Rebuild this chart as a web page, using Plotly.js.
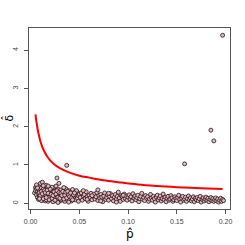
<!DOCTYPE html>
<html><head><meta charset="utf-8">
<script src="https://cdn.plot.ly/plotly-3.0.1.min.js"></script>
<style>html,body{margin:0;padding:0;background:#fff}#chart{width:245px;height:245px}</style>
</head><body><div id="chart"></div>
<script>
var pHat = [
0.004,0.005,0.005,0.006,0.006,0.007,0.007,0.008,0.008,0.009,0.009,0.010,0.010,0.010,0.011,0.011,0.012,0.012,0.012,0.013,0.013,0.014,0.014,0.014,0.015,0.015,0.016,0.016,0.016,0.017,0.017,0.018,0.018,0.018,0.019,0.019,0.019,0.020,0.020,0.020,
0.006,0.008,0.011,0.013,0.015,0.017,0.009,0.012,0.016,0.019,
0.021,0.021,0.022,0.022,0.023,0.023,0.024,0.024,0.025,0.025,0.026,0.026,0.027,0.027,0.028,0.028,0.029,0.029,0.030,0.030,0.031,0.031,0.032,0.032,0.033,0.033,0.034,0.034,0.035,0.035,0.036,0.036,0.037,0.037,0.038,0.038,0.039,0.039,0.040,0.040,0.041,0.042,0.042,0.043,0.044,0.044,0.045,0.046,0.046,0.047,0.048,0.048,0.049,0.049,0.050,
0.022,0.026,0.028,0.031,0.034,0.039,0.043,0.024,0.033,0.047,
0.010,0.011,0.012,0.013,0.014,0.015,0.016,0.017,0.018,0.019,0.020,0.021,0.022,0.023,0.024,0.025,0.026,0.027,0.028,0.029,0.030,0.031,0.032,0.033,0.034,0.035,0.036,0.037,0.038,0.039,0.040,0.041,0.042,0.043,0.044,0.045,0.013,0.007,0.009,0.018,
0.051,0.052,0.053,0.054,0.055,0.056,0.057,0.058,0.059,0.060,0.061,0.062,0.063,0.064,0.065,0.066,0.067,0.068,0.069,0.069,0.070,0.071,0.072,0.073,0.074,0.075,0.076,0.077,0.078,0.079,0.080,0.081,0.082,0.083,0.084,0.085,0.086,0.087,0.088,0.089,0.090,0.091,0.092,0.093,0.094,0.095,0.096,0.097,0.098,0.099,0.100,
0.054,0.058,0.063,0.072,0.080,0.088,0.095,
0.101,0.102,0.103,0.104,0.105,0.106,0.107,0.108,0.109,0.110,0.111,0.112,0.113,0.114,0.115,0.116,0.117,0.118,0.119,0.120,0.121,0.122,0.123,0.124,0.125,0.126,0.127,0.128,0.129,0.130,0.131,0.132,0.133,0.134,0.135,0.136,0.137,0.138,0.139,0.140,0.141,0.142,0.143,0.144,0.145,0.146,0.147,0.148,0.149,0.150,0.151,0.152,0.153,0.154,0.155,0.156,0.157,0.158,0.159,0.160,0.161,0.162,0.163,0.164,0.165,0.166,0.167,0.168,0.169,0.170,0.171,0.172,0.173,0.174,0.175,0.176,0.177,0.178,0.179,0.180,0.181,0.182,0.183,0.184,0.185,0.186,0.187,0.188,0.189,0.190,0.191,0.192,0.193,0.194,0.195,0.196,0.197,0.198,
0.197,0.185,0.188,0.158,0.037,0.027,0.029
];
var deltaHat = [
0.27,0.41,0.33,0.22,0.38,0.30,0.15,0.45,0.26,0.19,0.35,0.52,0.28,0.12,0.40,0.23,0.33,0.08,0.55,0.18,0.29,0.43,0.14,0.25,0.36,0.06,0.21,0.31,0.47,0.11,0.27,0.38,0.17,0.05,0.24,0.33,0.42,0.13,0.29,0.20,
0.48,0.10,0.07,0.37,0.22,0.40,0.28,0.20,0.09,0.15,
0.36,0.09,0.25,0.18,0.31,0.04,0.40,0.22,0.13,0.28,0.34,0.07,0.19,0.26,0.11,0.37,0.23,0.16,0.30,0.06,0.21,0.35,0.14,0.27,0.09,0.24,0.32,0.18,0.05,0.26,0.12,0.38,0.20,0.29,0.08,0.23,0.16,0.33,0.25,0.10,0.19,0.28,0.06,0.22,0.14,0.31,0.18,0.09,0.26,0.21,0.13,0.29,0.05,0.20,0.24,
0.42,0.45,0.02,0.10,0.41,0.03,0.36,0.15,0.17,0.33,
0.20,0.31,0.25,0.12,0.33,0.28,0.15,0.34,0.26,0.09,0.37,0.23,0.13,0.20,0.30,0.08,0.24,0.33,0.16,0.28,0.13,0.26,0.20,0.31,0.11,0.21,0.29,0.14,0.31,0.22,0.17,0.27,0.14,0.09,0.22,0.27,0.46,0.40,0.12,0.45,
0.15,0.27,0.08,0.19,0.23,0.12,0.30,0.17,0.05,0.21,0.14,0.26,0.09,0.19,0.24,0.11,0.17,0.28,0.35,0.07,0.20,0.13,0.23,0.16,0.04,0.19,0.27,0.10,0.15,0.22,0.08,0.18,0.25,0.12,0.20,0.06,0.16,0.23,0.11,0.18,0.29,0.14,0.05,0.20,0.17,0.10,0.24,0.13,0.19,0.08,0.16,
0.33,0.10,0.20,0.06,0.26,0.03,0.21,
0.22,0.11,0.17,0.06,0.25,0.14,0.19,0.09,0.15,0.21,0.04,0.12,0.18,0.26,0.10,0.15,0.07,0.20,0.13,0.17,0.05,0.11,0.23,0.14,0.08,0.18,0.12,0.03,0.16,0.21,0.09,0.14,0.19,0.06,0.12,0.24,0.10,0.16,0.04,0.13,0.18,0.08,0.11,0.20,0.14,0.05,0.09,0.17,0.12,0.07,0.15,0.21,0.10,0.03,0.13,0.18,0.08,0.11,0.16,0.05,0.12,0.19,0.09,0.14,0.06,0.11,0.17,0.04,0.13,0.09,0.15,0.07,0.12,0.18,0.03,0.10,0.14,0.06,0.11,0.16,0.08,0.13,0.04,0.10,0.15,0.07,0.12,0.05,0.09,0.14,0.06,0.11,0.03,0.08,0.13,0.05,0.10,0.07,
4.39,1.91,1.63,1.03,0.99,0.66,0.52
];
var curveP = [0.005,0.006,0.007,0.008,0.009,0.010,0.012,0.014,0.017,0.020,0.025,0.030,0.038,0.05,0.06,0.075,0.09,0.11,0.13,0.15,0.175,0.197];
var curveDelta = [2.32,2.12,1.96,1.83,1.72,1.62,1.47,1.36,1.22,1.12,1.00,0.92,0.82,0.72,0.67,0.60,0.55,0.49,0.45,0.42,0.39,0.37];
var xTicks = [0, 0.05, 0.10, 0.15, 0.20];
var xTickLabels = ['0.00','0.05','0.10','0.15','0.20'];
var yTicks = [0,1,2,3,4];
var yTickLabels = ['0','1','2','3','4'];

var traces = [
  {x: pHat, y: deltaHat, type: 'scatter', mode: 'markers',
   marker: {symbol: 'circle', size: 4, color: '#eeb0bd', line: {color: '#1a1a1a', width: 0.8}},
   hoverinfo: 'none'},
  {x: curveP, y: curveDelta, type: 'scatter', mode: 'lines',
   line: {color: '#ff0000', width: 2, shape: 'spline', smoothing: 1}, hoverinfo: 'none'}
];
var axisCommon = {showgrid: false, zeroline: false, showline: true, mirror: true,
  linecolor: '#555', linewidth: 1, ticks: 'outside', ticklen: 4, tickcolor: '#555', tickwidth: 1,
  tickfont: {family: 'Liberation Sans, Arial, sans-serif', size: 7, color: '#444'}};
var layout = {
  width: 245, height: 245, showlegend: false,
  paper_bgcolor: '#fff', plot_bgcolor: '#fff',
  margin: {l: 29, r: 15, t: 28, b: 36},
  xaxis: Object.assign({}, axisCommon, {range: [-0.0017, 0.2046], tickmode: 'array', tickvals: xTicks, ticktext: xTickLabels, ticklabelstandoff: 2}),
  yaxis: Object.assign({}, axisCommon, {range: [-0.15, 4.58], tickmode: 'array', tickvals: yTicks, ticktext: yTickLabels, tickangle: -90, ticklabelstandoff: 3}),
  annotations: [
    {text: 'p\u0302', xref: 'paper', yref: 'paper', x: 0.5, y: 0, yanchor: 'top', yshift: -16, showarrow: false,
     font: {family: 'DejaVu Sans, sans-serif', size: 12, color: '#000'}},
    {text: '\u03b4\u0302', xref: 'paper', yref: 'paper', x: 0, y: 0.5, xanchor: 'right', xshift: -12, showarrow: false, textangle: -90,
     font: {family: 'DejaVu Sans, sans-serif', size: 11, color: '#000'}}
  ]
};
Plotly.newPlot('chart', traces, layout, {displayModeBar: false, staticPlot: true});
</script></body></html>
